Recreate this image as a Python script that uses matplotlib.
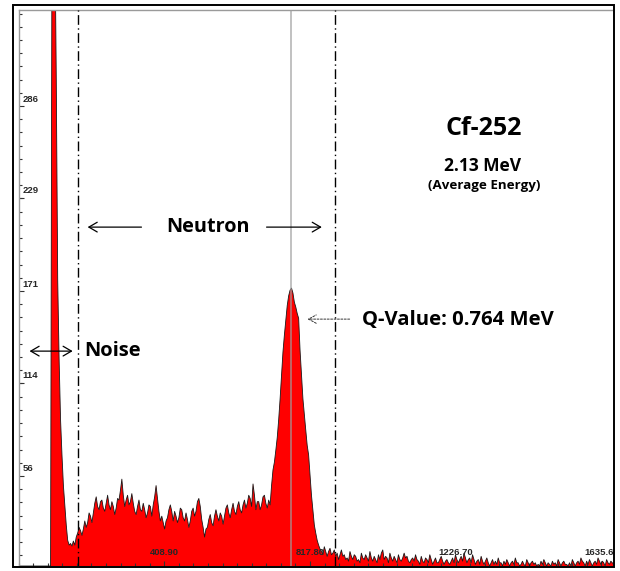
import numpy as np
import matplotlib
matplotlib.use("Agg")
import matplotlib.pyplot as plt
from matplotlib.patches import Rectangle

# ---------------- data ----------------
channel_width_kev = 4.0
counts = [
    # 0 - 92 keV: nothing
    0, 0, 0, 0, 0, 0, 0, 0, 0, 0, 0, 0, 0, 0, 0, 0, 0, 0, 0, 0, 0, 0, 0,
    # noise peak (clipped at top) and its falling edge
    400, 400, 400, 302, 178, 128, 91, 69, 50, 38, 25.5, 16, 13, 14, 12.4, 15.5, 13, 18, 20.5,
    # continuum below the Q-value peak
    24, 22, 19, 23, 28, 24, 27, 33, 31, 27, 33, 39, 43, 37, 35, 40, 41, 36,
    34, 39, 44, 38, 35, 40, 37, 32, 36, 42, 41, 47, 54, 44, 37, 41, 44, 38,
    40, 45, 39, 34, 32, 37, 41, 35, 34, 39, 35, 30, 33, 38, 37, 31, 38, 43,
    50, 42, 34, 28, 31, 27, 23, 28, 30, 35, 38, 34, 28, 34, 31, 27, 30, 36,
    35, 30, 28, 33, 29, 24, 28, 34, 36, 31, 34, 40, 42, 37, 29, 24, 18, 23,
    24, 29, 32, 27, 25, 31, 35, 31, 28, 33, 31, 26, 31, 36, 38, 33, 30, 35,
    39, 34, 32, 37, 40, 35, 33, 38, 41, 36, 39, 44, 42, 37, 51, 44, 35, 40,
    40, 35, 38, 43, 44, 39, 36, 41,
    38, 50,
    # Q-value peak
    59.7, 64.6, 72, 80, 91, 104, 119, 133, 143.6, 153, 162, 168, 171.5, 172.8,
    169.7, 164, 161, 157, 154, 134, 119, 104, 94, 84.5, 75, 69, 56.6, 44, 35,
    25.5, 20.5, 16, 13, 10.6, 9.3,
    # high-energy tail
    7, 12, 9, 6, 9, 11, 7, 8, 10, 6, 8, 4, 7, 10, 6, 7, 4, 5, 3, 9, 6,
    4, 7, 6, 3, 4, 2, 8, 5, 4, 7, 5, 3, 9, 5, 3, 6, 4, 2, 7, 4, 8, 10,
    4, 6, 5, 2, 8, 5, 3, 6, 4, 2, 7, 4, 3, 5, 8, 5, 6, 3, 2, 4, 5, 3,
    7, 4, 3, 1, 6, 3, 2, 5, 4, 2, 7, 4, 1, 3, 5, 2, 2, 4, 6, 3, 1, 3,
    4, 2, 1, 3, 5, 2, 7, 4, 2, 4, 6, 3, 8, 5, 2, 4, 5, 2, 7, 4, 1, 3,
    4, 1, 6, 3, 1, 3, 5, 2, 0, 2, 4, 1, 3, 1, 5, 2, 2, 0, 3, 1, 4, 2,
    0, 2, 3, 1, 5, 2, 2, 0, 1, 3, 1, 0, 4, 2, 0, 2, 3, 1, 2, 0, 1, 0,
    3, 1, 4, 2, 0, 2, 1, 0, 3, 1, 2, 0, 4, 2, 0, 2, 3, 1, 1, 0, 2, 0,
    4, 2, 0, 2, 3, 1, 5, 3, 2, 0, 3, 1, 4, 2, 0, 2, 3, 1, 5, 3, 1, 3,
    2, 0, 4, 2, 1, 3, 2, 1,
]
x_tick_values = [408.90, 817.80, 1226.70, 1635.61]
x_tick_labels = ["408.90", "817.80", "1226.70", "1635.61"]
y_tick_values = [56, 114, 171, 229, 286]
y_tick_labels = ["56", "114", "171", "229", "286"]
q_value_kev = 764
roi_bounds_kev = [167, 889]
x_max_kev = 1668
y_max_counts = 346

energy = (np.arange(len(counts)) + 0.5) * channel_width_kev
counts = np.array(counts, dtype=float)

# ---------------- figure ----------------
W, H = 620, 571
fig = plt.figure(figsize=(W / 100, H / 100), dpi=100)
fig.patch.set_facecolor("white")

ax_l, ax_r, ax_t, ax_b = 18.5, 613, 9.5, 566
ax = fig.add_axes([ax_l / W, (H - ax_b) / H, (ax_r - ax_l) / W, (ax_b - ax_t) / H])
ax.set_xlim(0, x_max_kev)
ax.set_ylim(0, y_max_counts)

# spectrum
ax.fill_between(energy, counts, 0, color="#ff0000", linewidth=0, zorder=1)
ax.plot(energy, counts, color="#1a1a1a", lw=0.6, zorder=2)

# Q-value marker line and region bounds
ax.axvline(q_value_kev, color=(0.62, 0.62, 0.62), alpha=0.75, lw=1.2, zorder=3)
for xb in roi_bounds_kev:
    ax.axvline(xb, color="black", lw=1.0, linestyle=(0, (7, 2.5, 1, 2.5)), zorder=4)

# spines
for s in ["left", "top"]:
    ax.spines[s].set_color("#9a9a9a")
    ax.spines[s].set_linewidth(1.0)
for s in ["right", "bottom"]:
    ax.spines[s].set_visible(False)

# ticks
ax.set_xticks(x_tick_values, labels=[])
ax.set_xticks(np.arange(0, x_max_kev, x_tick_values[0] / 10), minor=True)
ax.set_yticks(y_tick_values, labels=[])
step = (y_tick_values[-1] - y_tick_values[0]) / 4 / 7
ax.set_yticks(np.arange(y_tick_values[0] % step, y_max_counts, step), minor=True)
ax.tick_params(axis="both", which="major", direction="in", length=3.5, width=0.8, color="#333333")
ax.tick_params(axis="both", which="minor", direction="in", length=2.2, width=0.8, color="#333333")

tick_font = dict(family="Liberation Sans", fontsize=6.8, fontweight="bold", color="#262626")
for v, lab in zip(y_tick_values, y_tick_labels):
    ax.annotate(lab, xy=(0, v), xycoords=("axes fraction", "data"), xytext=(3, 5),
                textcoords="offset points", ha="left", va="center", zorder=6, **tick_font)
for v, lab in zip(x_tick_values, x_tick_labels):
    ax.annotate(lab, xy=(v, 0), xycoords=("data", "axes fraction"), xytext=(0, 9.4),
                textcoords="offset points", ha="center", va="center", zorder=5,
                annotation_clip=False, clip_on=True, **tick_font)

# annotations
txt = dict(family="Open Sans", fontweight="bold", color="black")
arrow = dict(arrowstyle="->,head_length=0.6,head_width=0.35", lw=0.9, color="black",
             mutation_scale=10, shrinkA=0, shrinkB=0)
ax.text(532, 210.7, "Neutron", ha="center", va="center", fontsize=14.3, zorder=7, **txt)
ax.annotate("", xy=(194, 210.7), xytext=(345, 210.7), arrowprops=arrow, zorder=7)
ax.annotate("", xy=(851, 210.7), xytext=(696, 210.7), arrowprops=arrow, zorder=7)

ax.text(185, 133.6, "Noise", ha="left", va="center", fontsize=14.5, zorder=7, **txt)
arrow2 = dict(arrow)
arrow2["arrowstyle"] = "<->,head_length=0.6,head_width=0.35"
ax.annotate("", xy=(152, 133.6), xytext=(31, 133.6), arrowprops=arrow2, zorder=7)

ax.text(963, 152.9, "Q-Value: 0.764 MeV", ha="left", va="center", fontsize=14.6, zorder=7, **txt)
ax.annotate("", xy=(811, 153.5), xytext=(929, 153.5),
            arrowprops=dict(arrowstyle="->,head_length=0.55,head_width=0.3", lw=0.7,
                            color="#333333", linestyle=(0, (2, 1.5)), mutation_scale=10,
                            shrinkA=0, shrinkB=0), zorder=7)

ax.text(1306, 272.0, "Cf-252", ha="center", va="center", fontsize=18, zorder=7, **txt)
ax.text(1303, 248.6, "2.13 MeV", ha="center", va="center", fontsize=12.5, zorder=7, **txt)
ax.text(1306, 236.6, "(Average Energy)", ha="center", va="center", fontsize=9.6, zorder=7, **txt)

# outer frame
fig.patches.append(Rectangle((13 / W, (H - 567) / H), (614 - 13) / W, (567 - 5) / H,
                             transform=fig.transFigure, fill=False, edgecolor="black",
                             lw=1.4, zorder=10))

fig.savefig("out.png", dpi=100)
